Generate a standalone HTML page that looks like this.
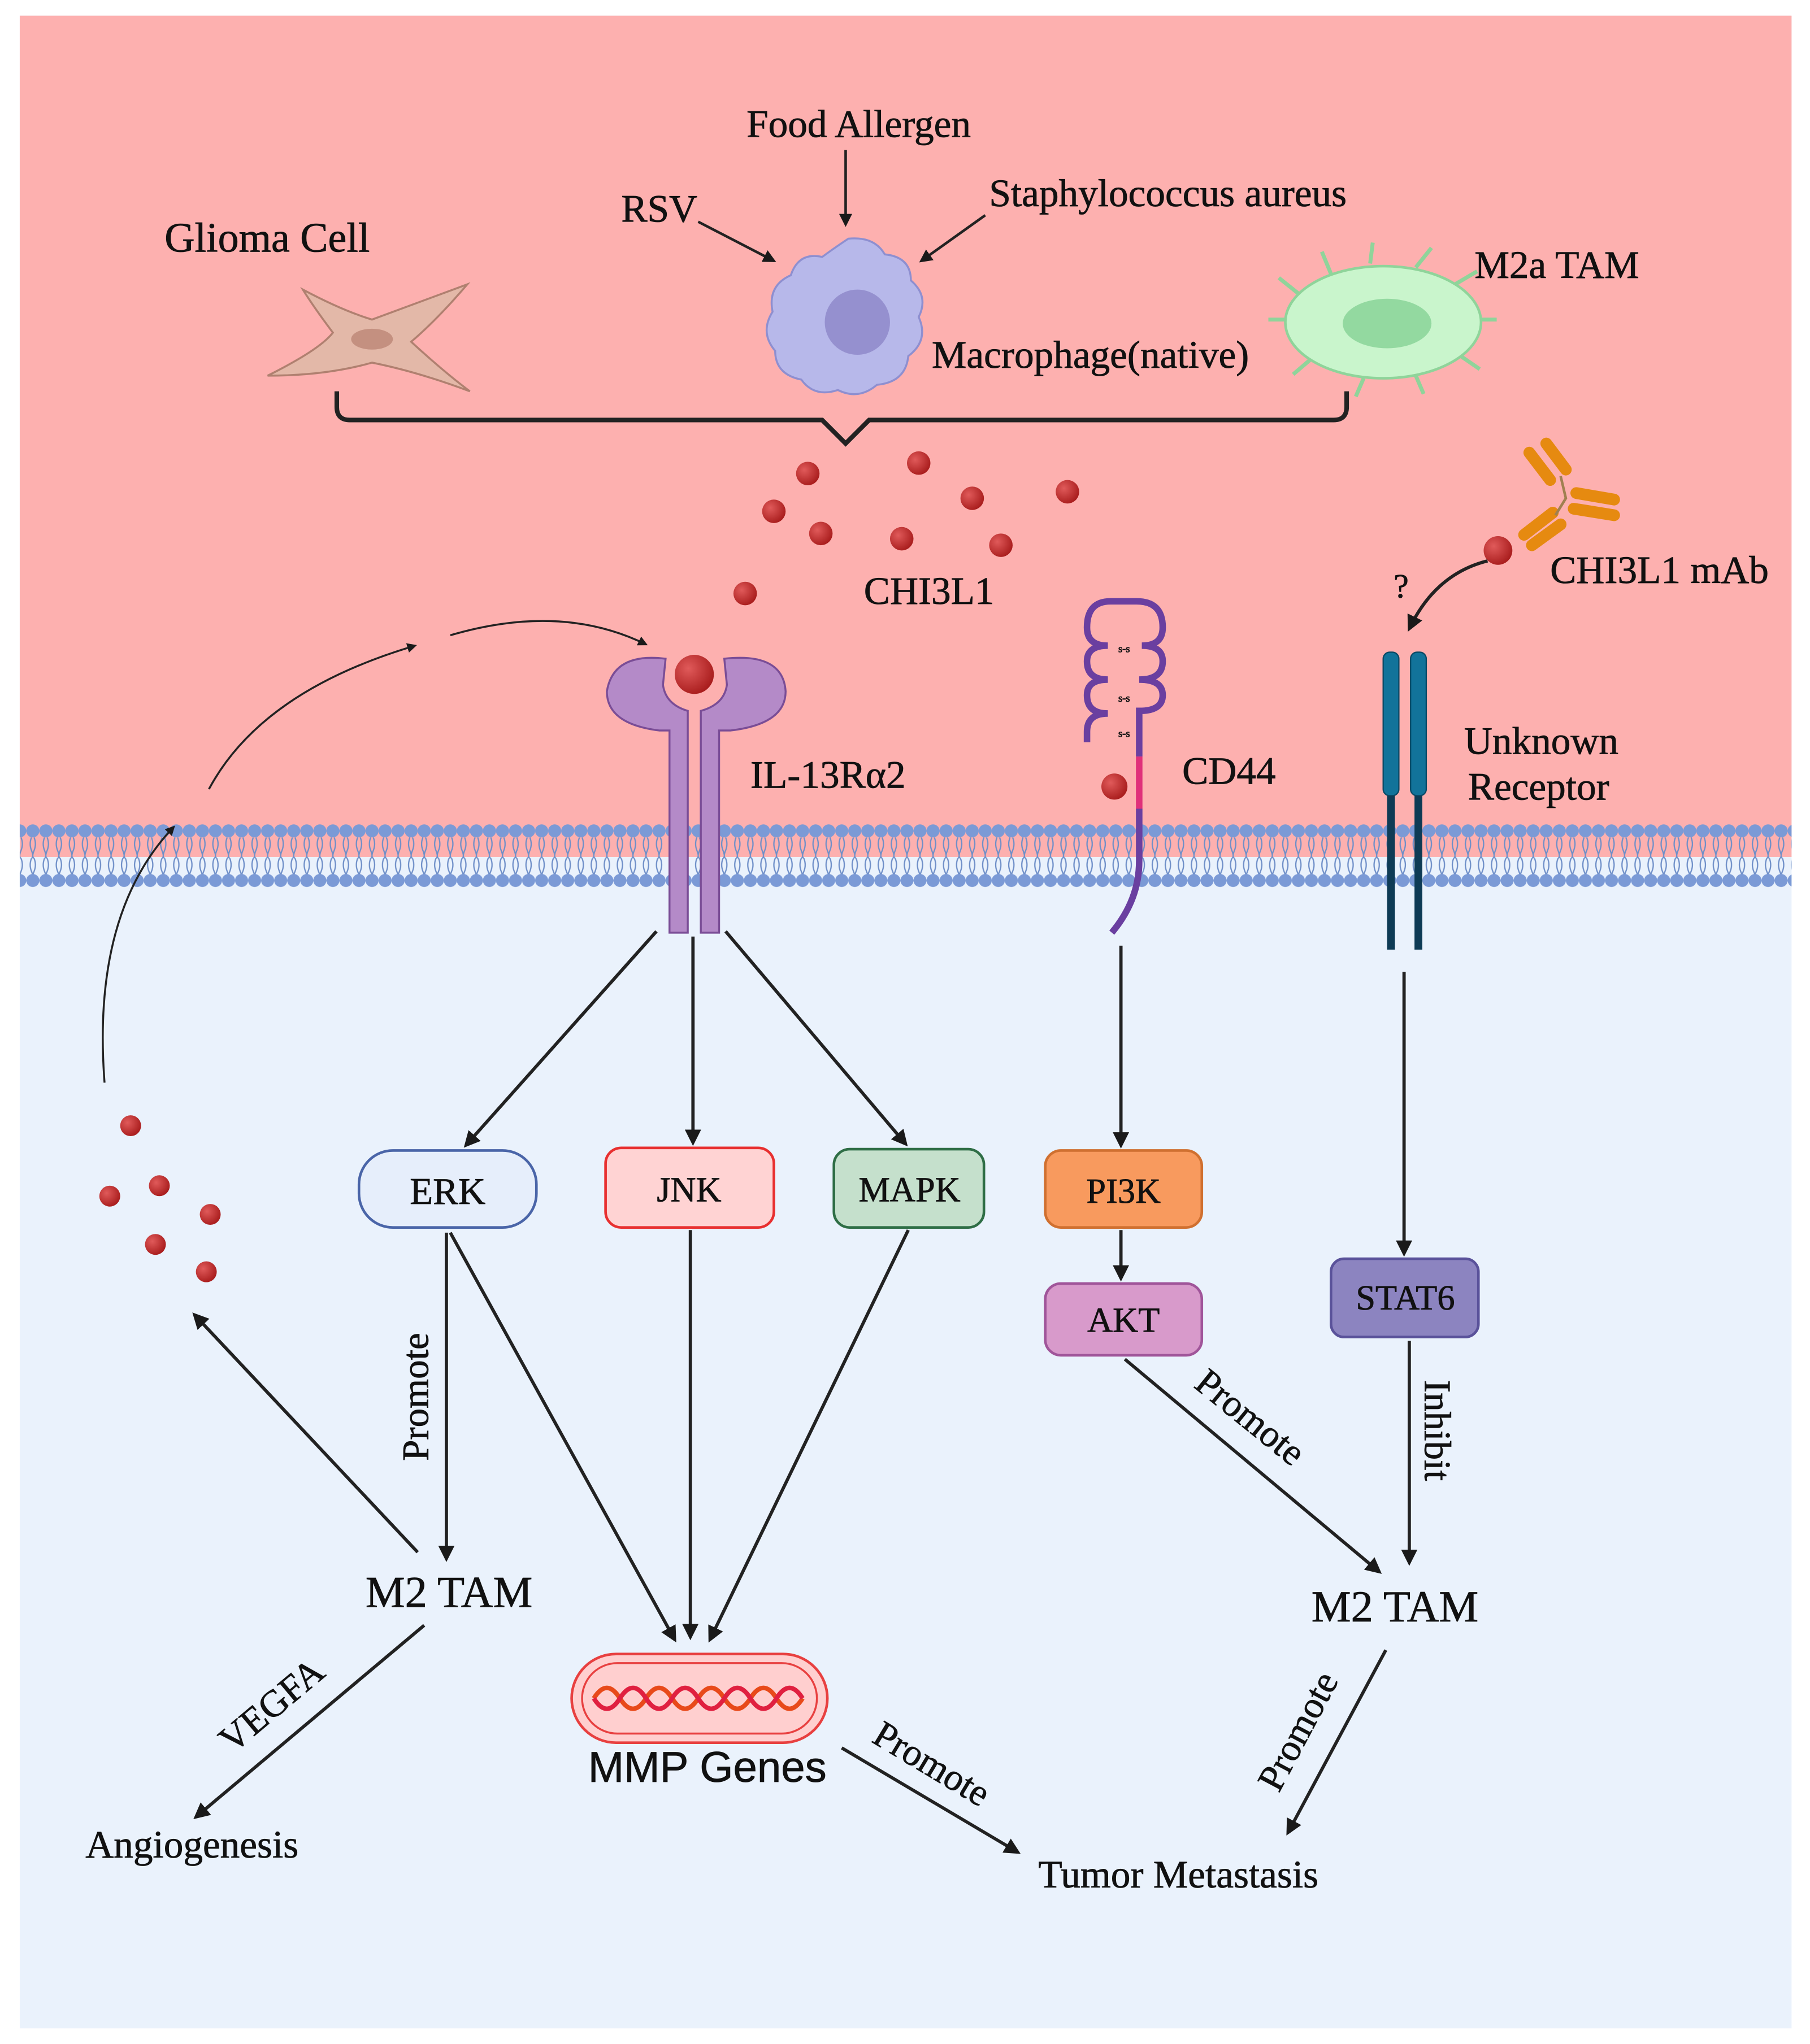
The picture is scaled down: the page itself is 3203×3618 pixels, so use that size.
<!DOCTYPE html>
<html><head><meta charset="utf-8"><style>
html,body{margin:0;padding:0;background:#fff}
svg{display:block}
text{font-family:"Liberation Serif",serif;fill:#111;stroke:#111;stroke-width:0.35}
</style></head><body>
<svg width="3203" height="3618" viewBox="0 0 1387 1567" xmlns="http://www.w3.org/2000/svg">
<defs>
<marker id="a" viewBox="0 0 10 10" refX="8" refY="5" markerWidth="5" markerHeight="5" orient="auto-start-reverse"><path d="M0,0 L10,5 L0,10 z" fill="#1a1a1a"/></marker>
<pattern id="mem" x="0" y="630" width="10" height="52" patternUnits="userSpaceOnUse">
<path d="M4,12 q-2,5 0,10 t0,6 M6,12 q2,5 0,10 t0,6 M4,28 q-2,5 0,10 t0,4 M6,28 q2,5 0,10 t0,4" stroke="#6f8fc8" stroke-width="1" fill="none"/>
<circle cx="5" cy="7" r="5" fill="#7b9ad6"/>
<circle cx="5" cy="45" r="5" fill="#7b9ad6"/>
</pattern>
<radialGradient id="dot" cx="0.35" cy="0.35" r="0.7"><stop offset="0" stop-color="#e05a5a"/><stop offset="1" stop-color="#a81c1c"/></radialGradient>
</defs>
<rect x="15" y="12" width="1358" height="1543" fill="#eaf2fc"/>
<rect x="15" y="12" width="1358" height="645" fill="#fdb0af"/>
<rect x="15" y="630" width="1358" height="52" fill="url(#mem)"/>

<!-- top texts -->
<text x="658" y="105" font-size="30" text-anchor="middle">Food Allergen</text>
<text x="476" y="170" font-size="30">RSV</text>
<text x="758" y="158" font-size="30">Staphylococcus aureus</text>
<text x="126" y="193" font-size="32">Glioma Cell</text>
<text x="1130" y="213" font-size="30">M2a TAM</text>
<text x="714" y="282" font-size="30">Macrophage(native)</text>
<line x1="648" y1="115" x2="648" y2="172" stroke="#222" stroke-width="2" marker-end="url(#a)"/>
<line x1="535" y1="170" x2="593" y2="200" stroke="#222" stroke-width="2" marker-end="url(#a)"/>
<line x1="755" y1="165" x2="706" y2="200" stroke="#222" stroke-width="2" marker-end="url(#a)"/>

<!-- glioma -->
<path d="M205,288 Q245,268 255,255 Q240,235 232,222 Q262,238 285,245 Q320,232 358,218 Q335,245 315,262 Q340,285 360,300 Q320,285 285,278 Q250,288 205,288 z" fill="#e3b8a8" stroke="#b08070" stroke-width="1.5"/>
<ellipse cx="285" cy="260" rx="16" ry="8" fill="#c49080"/>
<!-- macrophage -->
<path d="M650,183 q20,-2 28,12 q20,2 20,20 q14,12 6,28 q8,18 -8,30 q-2,20 -24,22 q-14,12 -30,4 q-18,6 -28,-8 q-20,-4 -20,-22 q-12,-14 -2,-30 q-4,-20 14,-28 q6,-18 24,-14 q8,-6 20,-14z" fill="#b7b8ea" stroke="#8e8fd0" stroke-width="1.5"/>
<circle cx="657" cy="247" r="25" fill="#9590cf"/>
<!-- M2a TAM -->
<g stroke="#8fd49a" stroke-width="3">
<line x1="985" y1="245" x2="972" y2="245"/><line x1="995" y1="225" x2="980" y2="213"/><line x1="1020" y1="210" x2="1013" y2="193"/><line x1="1050" y1="202" x2="1052" y2="186"/><line x1="1085" y1="205" x2="1097" y2="190"/><line x1="1115" y1="218" x2="1132" y2="208"/><line x1="1130" y1="245" x2="1147" y2="245"/><line x1="1118" y1="272" x2="1134" y2="283"/><line x1="1085" y1="288" x2="1091" y2="302"/><line x1="1045" y1="290" x2="1039" y2="304"/><line x1="1005" y1="275" x2="991" y2="287"/>
</g>
<ellipse cx="1060" cy="247" rx="75" ry="43" fill="#c9f5cc" stroke="#8fd49a" stroke-width="2"/>
<ellipse cx="1063" cy="248" rx="34" ry="19" fill="#93d9a0"/>

<!-- brace -->
<path d="M258,300 v12 q0,10 10,10 H630 l18,18 l18,-18 H1022 q10,0 10,-10 v-12" fill="none" stroke="#222" stroke-width="3.5"/>

<!-- dots -->
<g fill="url(#dot)">
<circle cx="619" cy="363" r="9"/><circle cx="704" cy="355" r="9"/><circle cx="593" cy="392" r="9"/><circle cx="629" cy="409" r="9"/><circle cx="691" cy="413" r="9"/><circle cx="745" cy="382" r="9"/><circle cx="767" cy="418" r="9"/><circle cx="818" cy="377" r="9"/><circle cx="571" cy="455" r="9"/>
<circle cx="100" cy="863" r="8"/><circle cx="84" cy="917" r="8"/><circle cx="122" cy="909" r="8"/><circle cx="161" cy="931" r="8"/><circle cx="119" cy="954" r="8"/><circle cx="158" cy="975" r="8"/>
<circle cx="854" cy="603" r="10"/><circle cx="1148" cy="422" r="11"/>
</g>
<text x="662" y="463" font-size="30">CHI3L1</text>
<text x="1188" y="447" font-size="30">CHI3L1 mAb</text>

<!-- antibody -->
<g stroke="#e68a10" stroke-width="9" stroke-linecap="round">
<line x1="1172" y1="347" x2="1188" y2="368"/><line x1="1185" y1="340" x2="1200" y2="360"/>
<line x1="1208" y1="378" x2="1237" y2="383"/><line x1="1206" y1="390" x2="1237" y2="395"/>
<line x1="1168" y1="410" x2="1190" y2="393"/><line x1="1174" y1="418" x2="1196" y2="402"/>
</g>
<path d="M1196,365 L1200,382 L1192,395" stroke="#a08050" stroke-width="2" fill="none"/>
<path d="M1140,430 Q1100,440 1080,482" fill="none" stroke="#222" stroke-width="2.5" marker-end="url(#a)"/>
<text x="1068" y="458" font-size="26">?</text>

<!-- IL13Ra2 -->
<path d="M510,505 Q470,500 465,530 Q465,555 505,560 L513,560 L513,715 L527,715 L527,545 Q510,540 508,525 Z" fill="#b48ac8" stroke="#7a4d96" stroke-width="1.5"/>
<path d="M555,505 Q600,500 602,530 Q602,555 560,560 L551,560 L551,715 L537,715 L537,545 Q555,540 557,525 Z" fill="#b48ac8" stroke="#7a4d96" stroke-width="1.5"/>
<circle cx="532" cy="517" r="15" fill="url(#dot)"/>
<text x="575" y="604" font-size="30">IL-13Rα2</text>

<!-- CD44 -->
<path d="M873,580 V545 q18,0 18,-12 q0,-12 -18,-12 q18,0 18,-14 q0,-12 -16,-12 q16,0 16,-14 q0,-20 -20,-20 h-20 q-18,0 -18,20 q0,14 16,14 q-16,0 -16,12 q0,14 16,14 q-16,0 -16,12 q0,14 16,14 q-16,0 -16,14 v8" fill="none" stroke="#6a3fa0" stroke-width="5"/>
<line x1="873" y1="580" x2="873" y2="620" stroke="#e0307a" stroke-width="5"/>
<path d="M873,620 V660 Q873,690 852,715" fill="none" stroke="#6a3fa0" stroke-width="5"/>
<text x="857" y="500" font-size="8" fill="#333" stroke="none">s-s</text><text x="857" y="538" font-size="8" fill="#333" stroke="none">s-s</text><text x="857" y="565" font-size="8" fill="#333" stroke="none">s-s</text>
<text x="906" y="601" font-size="30">CD44</text>

<!-- Unknown receptor -->
<rect x="1060" y="500" width="12" height="110" rx="5" fill="#12739a" stroke="#0a4a66"/>
<rect x="1081" y="500" width="12" height="110" rx="5" fill="#12739a" stroke="#0a4a66"/>
<line x1="1066" y1="610" x2="1066" y2="728" stroke="#0e3b55" stroke-width="6"/>
<line x1="1087" y1="610" x2="1087" y2="728" stroke="#0e3b55" stroke-width="6"/>
<text x="1122" y="578" font-size="30">Unknown</text>
<text x="1125" y="613" font-size="30">Receptor</text>

<!-- curved arrows left -->
<path d="M80,830 Q70,700 133,634" fill="none" stroke="#222" stroke-width="1.5" marker-end="url(#a)"/>
<path d="M160,605 Q200,530 318,495" fill="none" stroke="#222" stroke-width="1.5" marker-end="url(#a)"/>
<path d="M345,487 Q430,462 495,494" fill="none" stroke="#222" stroke-width="1.5" marker-end="url(#a)"/>

<!-- arrows -->
<g stroke="#222" stroke-width="2.5" fill="none" marker-end="url(#a)">
<line x1="503" y1="714" x2="357" y2="878"/>
<line x1="531" y1="718" x2="531" y2="876"/>
<line x1="556" y1="714" x2="694" y2="877"/>
<line x1="859" y1="725" x2="859" y2="878"/>
<line x1="859" y1="943" x2="859" y2="980"/>
<line x1="1076" y1="745" x2="1076" y2="961"/>
<line x1="342" y1="945" x2="342" y2="1195"/>
<line x1="345" y1="945" x2="517" y2="1257"/>
<line x1="529" y1="943" x2="529" y2="1255"/>
<line x1="696" y1="943" x2="544" y2="1257"/>
<line x1="320" y1="1190" x2="149" y2="1008"/>
<line x1="325" y1="1246" x2="150" y2="1393"/>
<line x1="645" y1="1340" x2="780" y2="1420"/>
<line x1="862" y1="1042" x2="1057" y2="1205"/>
<line x1="1080" y1="1028" x2="1080" y2="1198"/>
<line x1="1062" y1="1265" x2="987" y2="1405"/>
</g>

<!-- nodes -->
<rect x="275" y="882" width="136" height="59" rx="26" fill="#e6eefb" stroke="#4a65a8" stroke-width="2"/>
<text x="343" y="923" font-size="29" text-anchor="middle">ERK</text>
<rect x="464" y="880" width="129" height="61" rx="12" fill="#ffd3d3" stroke="#e83030" stroke-width="2"/>
<text x="528" y="921" font-size="27" text-anchor="middle">JNK</text>
<rect x="639" y="881" width="115" height="60" rx="12" fill="#c5e0cc" stroke="#2f6e46" stroke-width="2"/>
<text x="697" y="921" font-size="27" text-anchor="middle">MAPK</text>
<rect x="801" y="882" width="120" height="59" rx="12" fill="#f89a5e" stroke="#d07030" stroke-width="2"/>
<text x="861" y="922" font-size="27" text-anchor="middle">PI3K</text>
<rect x="801" y="984" width="120" height="55" rx="12" fill="#d89acb" stroke="#a0559a" stroke-width="2"/>
<text x="861" y="1021" font-size="27" text-anchor="middle">AKT</text>
<rect x="1020" y="965" width="113" height="60" rx="10" fill="#8c84c0" stroke="#5a529a" stroke-width="2"/>
<text x="1077" y="1004" font-size="27" text-anchor="middle">STAT6</text>

<!-- MMP -->
<rect x="438" y="1268" width="196" height="68" rx="34" fill="#ffcfcf" stroke="#e84040" stroke-width="2"/>
<rect x="446" y="1275" width="180" height="54" rx="27" fill="none" stroke="#e84040" stroke-width="1.5"/>
<path d="M455,1302 q10,-16 20,0 t20,0 t20,0 t20,0 t20,0 t20,0 t20,0 t20,0" stroke="#e84a1a" stroke-width="3.5" fill="none"/>
<path d="M455,1302 q10,16 20,0 t20,0 t20,0 t20,0 t20,0 t20,0 t20,0 t20,0" stroke="#e02040" stroke-width="3.5" fill="none"/>
<text x="542" y="1366" font-size="33" text-anchor="middle" style="font-family:'Liberation Sans',sans-serif">MMP Genes</text>

<!-- lower labels -->
<text x="344" y="1232" font-size="34" text-anchor="middle">M2 TAM</text>
<text x="1069" y="1243" font-size="34" text-anchor="middle">M2 TAM</text>
<text x="147" y="1424" font-size="30" text-anchor="middle">Angiogenesis</text>
<text x="903" y="1447" font-size="30" text-anchor="middle">Tumor Metastasis</text>
<text transform="translate(328,1120) rotate(-90)" font-size="29">Promote</text>
<text transform="translate(178,1345) rotate(-40)" font-size="29">VEGFA</text>
<text transform="translate(667,1335) rotate(31)" font-size="29">Promote</text>
<text transform="translate(914,1063) rotate(39)" font-size="29">Promote</text>
<text transform="translate(1092,1058) rotate(90)" font-size="29">Inhibit</text>
<text transform="translate(980,1375) rotate(-62)" font-size="29">Promote</text>
</svg>
</body></html>
